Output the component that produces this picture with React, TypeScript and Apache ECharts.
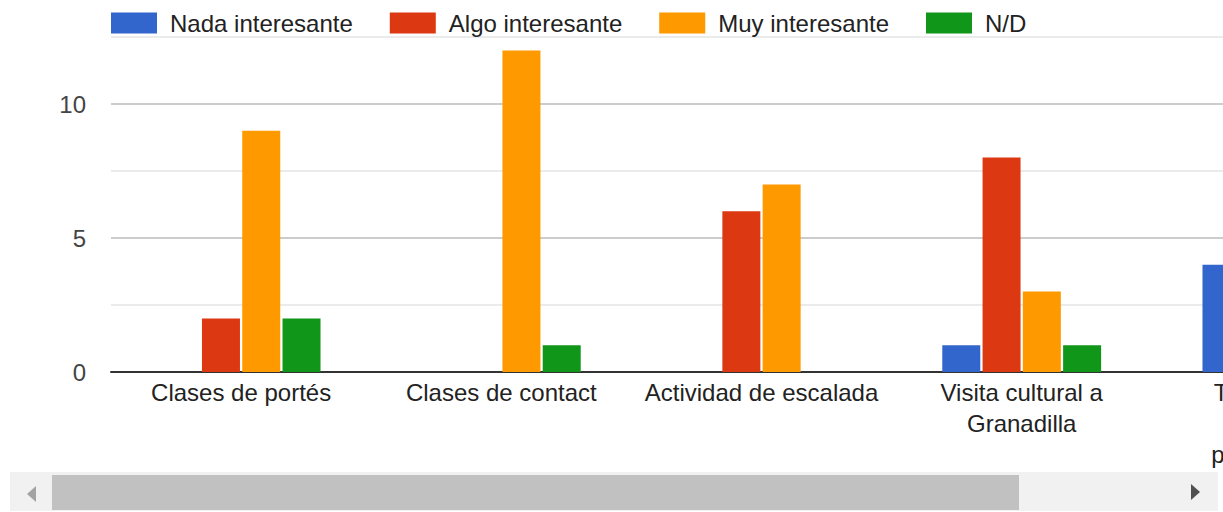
import React, { useEffect, useRef } from "react";
import * as echarts from "echarts";

const categories = [
  "Clases de portés",
  "Clases de contact",
  "Actividad de escalada",
  "Visita cultural a\nGranadilla",
  "Taller de tela\nacrobática\npara el grupo",
];
const seriesNames = ["Nada interesante", "Algo interesante", "Muy interesante", "N/D"];
const nada = [0, 0, 0, 1, 4];
const algo = [2, 0, 6, 8, 5];
const muy = [9, 12, 7, 3, 3];
const nd = [2, 1, 0, 1, 1];
const colors = ["#3366cc", "#dc3912", "#ff9900", "#109618"];
const yTicks = [0, 5, 10];

export default function App() {
  const ref = useRef<HTMLDivElement>(null);
  useEffect(() => {
    document.body.style.margin = "0";
    const chart = echarts.init(ref.current!, null, { renderer: "svg" });
    const values = [nada, algo, muy, nd];
    const font = "'Liberation Sans', Arial, sans-serif";
    chart.setOption({
      animation: false,
      textStyle: { fontFamily: font },
      legend: {
        left: 111,
        top: 11,
        padding: 0,
        itemWidth: 46,
        itemHeight: 21,
        itemGap: 37,
        icon: "rect",
        textStyle: { fontSize: 24, color: "#222", fontFamily: font, padding: [0, 0, 0, 8] },
        data: seriesNames,
      },
      grid: { left: 111, right: 0, top: 37, bottom: 140 },
      xAxis: {
        type: "category",
        data: categories,
        axisLine: { show: true, lineStyle: { color: "#333", width: 2 } },
        axisTick: { show: false },
        axisLabel: {
          interval: 0,
          fontSize: 24,
          lineHeight: 31,
          color: "#222",
          margin: 5,
          fontFamily: font,
        },
      },
      yAxis: {
        type: "value",
        min: 0,
        max: 12.5,
        interval: 2.5,
        axisLine: { show: false },
        axisTick: { show: false },
        axisLabel: {
          fontSize: 24,
          color: "#444",
          margin: 25,
          fontFamily: font,
          formatter: (v: number) => (yTicks.includes(v) ? String(v) : ""),
        },
        splitLine: { lineStyle: { color: ["#cccccc", "#ebebeb"], width: 2 } },
      },
      series: seriesNames.map((name, i) => ({
        name,
        type: "bar",
        data: values[i],
        barWidth: 38,
        barGap: "6%",
        itemStyle: { color: colors[i] },
      })),
      graphic: [
        { type: "rect", shape: { x: 10, y: 472, width: 1208, height: 39 }, style: { fill: "#f1f1f1" } },
        { type: "rect", shape: { x: 52, y: 475, width: 967, height: 35 }, style: { fill: "#c1c1c1" } },
        { type: "polygon", shape: { points: [[36, 486], [36, 502], [27, 494]] }, style: { fill: "#a3a3a3" } },
        { type: "polygon", shape: { points: [[1191, 484], [1191, 500], [1200, 492]] }, style: { fill: "#505050" } },
      ],
    });
    return () => chart.dispose();
  }, []);
  return (
    <div style={{ width: 1223, height: 512, overflow: "hidden", position: "relative" }}>
      <div ref={ref} style={{ width: 1412, height: 512 }} />
    </div>
  );
}
